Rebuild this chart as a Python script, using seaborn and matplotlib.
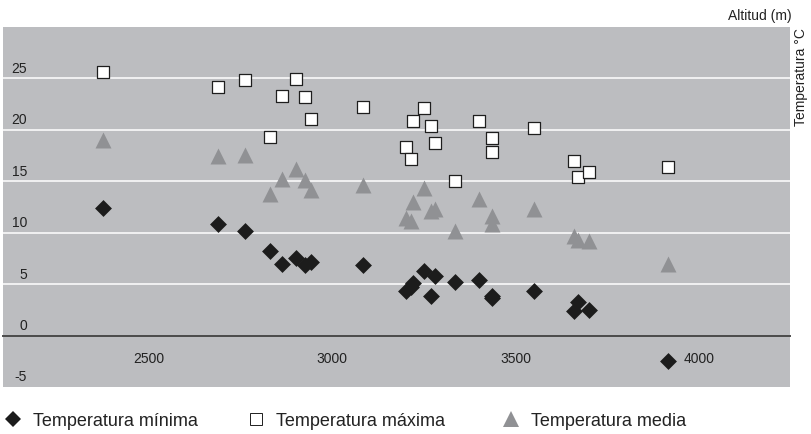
import matplotlib
matplotlib.use("Agg")
import matplotlib.pyplot as plt
from matplotlib.lines import Line2D
import pandas as pd
import seaborn as sns

# Altitude of each station (m) and its temperatures (°C)
altitud = [2375, 2687, 2761, 2829, 2863, 2901, 2925, 2943, 3084, 3200, 3214, 3219,
           3250, 3270, 3280, 3335, 3399, 3436, 3436, 3550, 3660, 3670, 3700, 3916]
t_minima = [12.4, 10.8, 10.2, 8.2, 7.0, 7.5, 6.9, 7.2, 6.9, 4.3, 4.7, 5.1,
            6.3, 3.8, 5.8, 5.2, 5.4, 3.7, 3.8, 4.3, 2.4, 3.3, 2.5, -2.5]
t_maxima = [25.6, 24.2, 24.8, 19.3, 23.3, 24.9, 23.2, 21.1, 22.2, 18.3, 17.2, 20.9,
            22.1, 20.4, 18.7, 15.0, 20.9, 19.2, 17.8, 20.2, 17.0, 15.4, 15.9, 16.4]
t_media = [19.0, 17.5, 17.6, 13.8, 15.2, 16.2, 15.1, 14.2, 14.6, 11.4, 11.1, 13.0,
           14.3, 12.1, 12.3, 10.2, 13.3, 11.6, 10.8, 12.3, 9.7, 9.3, 9.2, 7.0]

x_ticks = [2500, 3000, 3500, 4000]
y_ticks = [-5, 0, 5, 10, 15, 20, 25]
series_labels = ["Temperatura mínima", "Temperatura máxima", "Temperatura media"]
x_title = "Altitud (m)"
y_title = "Temperatura °C"

sns.set_theme(style="white")
narrow = ["Liberation Sans Narrow", "Liberation Sans", "DejaVu Sans"]
regular = ["Liberation Sans", "DejaVu Sans"]
plt.rcParams["font.family"] = regular

W, H = 812, 435
fig = plt.figure(figsize=(W / 100, H / 100), dpi=100)
fig.patch.set_facecolor("white")
ax = fig.add_axes([3 / W, 47 / H, 787 / W, 360 / H])
ax.set_facecolor("#bcbdc0")
ax.set_xlim(2102, 4248)
ax.set_ylim(-5, 30)

df = pd.DataFrame({"altitud": altitud, "minima": t_minima,
                   "maxima": t_maxima, "media": t_media})

c_min, c_media, c_edge = "#1c1c1c", "#909194", "#1e1e1e"
sns.scatterplot(data=df, x="altitud", y="media", marker="^", s=132,
                color=c_media, linewidth=0, ax=ax, legend=False, zorder=3)
sns.scatterplot(data=df, x="altitud", y="maxima", marker="s", s=80,
                color="white", edgecolor=c_edge, linewidth=0.9, ax=ax,
                legend=False, zorder=4)
sns.scatterplot(data=df, x="altitud", y="minima", marker="D", s=74,
                color=c_min, linewidth=0, ax=ax, legend=False, zorder=5)

# white horizontal guides above the zero line
for v in y_ticks:
    if v > 0:
        ax.axhline(v, color="white", lw=1.1, zorder=1)

for side in ("left", "right", "top"):
    ax.spines[side].set_visible(False)
ax.spines["bottom"].set_position(("data", 0))
ax.spines["bottom"].set_color("#4a4a4a")
ax.spines["bottom"].set_linewidth(1.4)
ax.spines["bottom"].set_zorder(2)

ax.set_xticks(x_ticks)
ax.set_xticklabels([str(t) for t in x_ticks])
ax.tick_params(axis="x", direction="inout", length=8, width=1.1,
               color="#4a4a4a", labelsize=10, labelcolor="#222222", pad=7)
for lbl in ax.get_xticklabels():
    lbl.set_family(narrow)
ax.set_yticks([])
ax.set_xlabel("")
ax.set_ylabel("")

# temperature labels sit just above their guide lines, inside the panel
for v in y_ticks:
    ax.annotate(f"{v}", xy=(0, v), xycoords=ax.get_yaxis_transform(),
                xytext=(17.3, 7.6), textcoords="offset points",
                ha="right", va="center", fontsize=10, color="#222222",
                family=narrow)

fig.text(792 / W, 1 - 16 / H, x_title, ha="right", va="center",
         fontsize=10, color="#222222", family=narrow)
fig.text(801.5 / W, 1 - 28 / H, y_title, rotation=90, ha="center", va="top",
         fontsize=10, color="#222222", family=regular)

# legend row below the panel
fs = 13
fs_px = fs * 100 / 72
handles = [
    Line2D([], [], ls="none", marker="D", ms=8.6, color=c_min, mew=0),
    Line2D([], [], ls="none", marker="s", ms=9.0, mfc="white", mec=c_edge, mew=0.7),
    Line2D([], [], ls="none", marker="^", ms=11.3, color=c_media, mew=0),
]
centers = [12.7, 256, 511]
for h, lab, cx in zip(handles, series_labels, centers):
    fig.legend(handles=[h], labels=[lab], loc="center left",
               bbox_to_anchor=((cx - fs_px / 2) / W, 1 - 422 / H),
               frameon=False, borderpad=0, borderaxespad=0,
               handlelength=1.0, handletextpad=0.62,
               prop={"family": regular, "size": fs}, labelcolor="#222222")

fig.savefig("out.png", dpi=100, facecolor="white")
